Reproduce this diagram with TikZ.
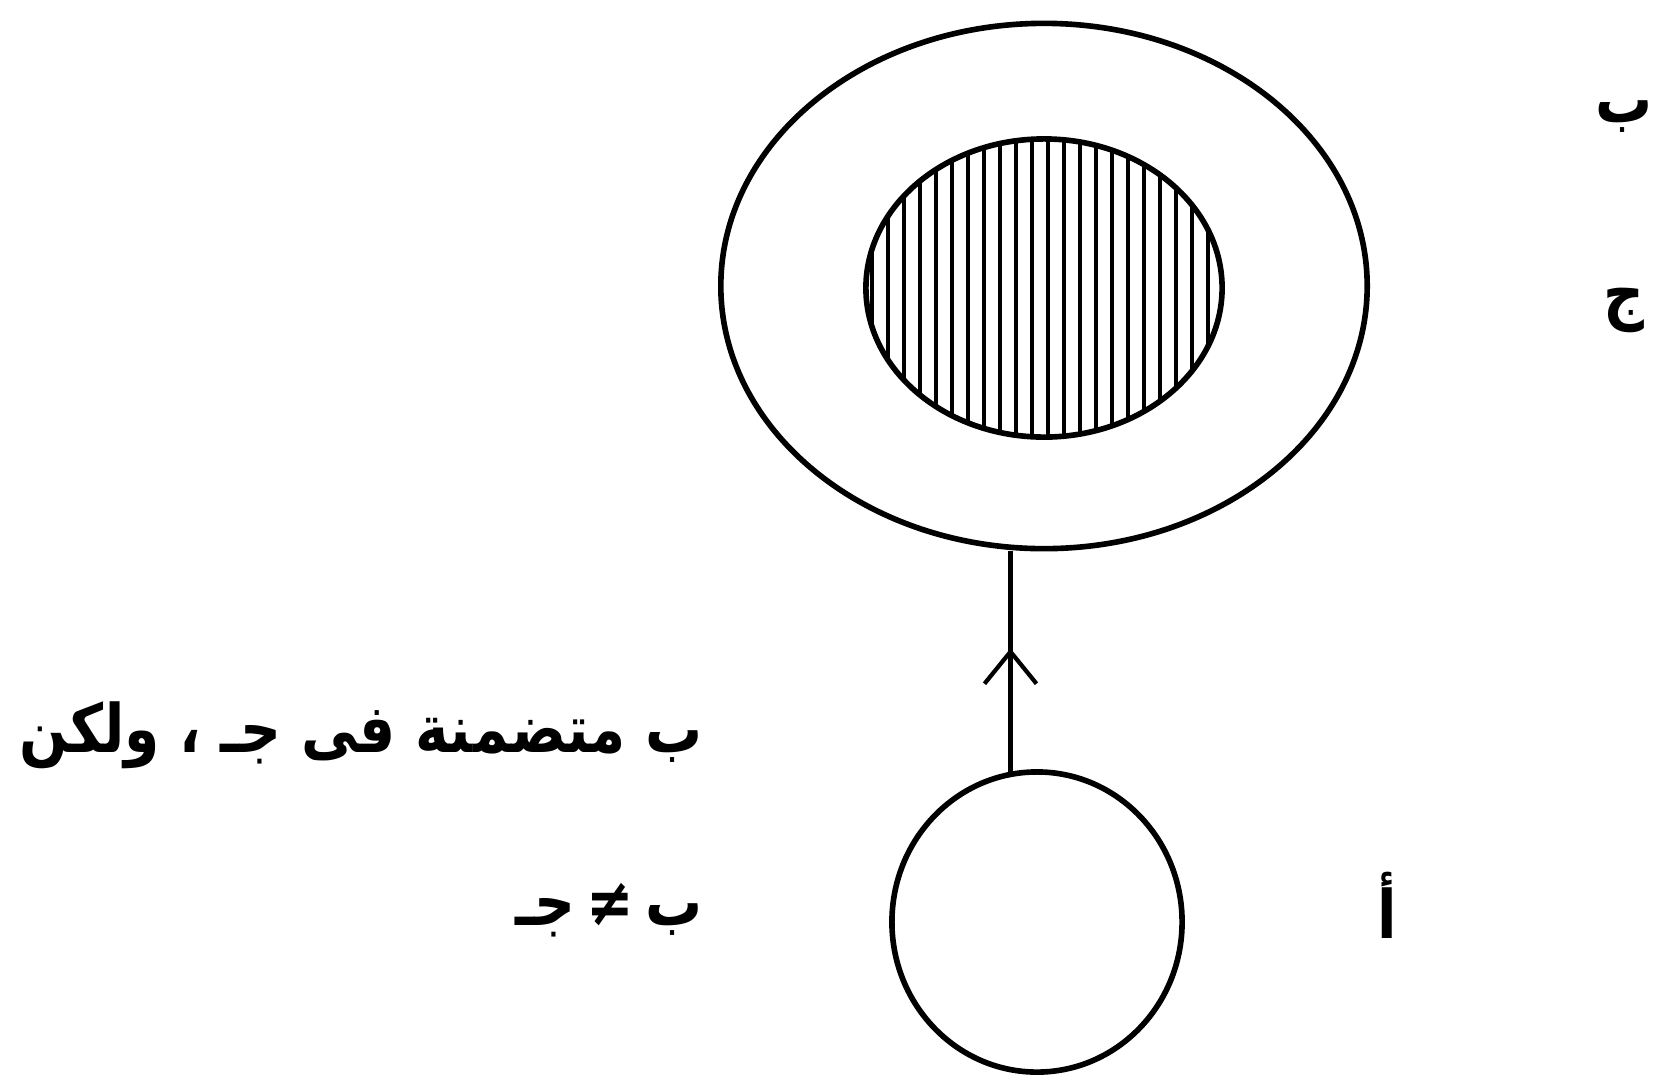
\documentclass[tikz,border=0pt]{standalone}
\usepackage{fontspec}
\newfontfamily\arabicfont[Script=Arabic,FakeStretch=0.85]{DejaVu Sans}
\TeXXeTstate=1
\usetikzlibrary{
    arrows.meta,
    shapes.geometric,
    decorations.markings
}
\tikzstyle{setline} = [
    ellipse,
    draw=black,
    line width=1.6pt,
    inner sep=0pt
]
\tikzstyle{hatch} = [
    line width=0.9pt
]
\tikzstyle{midarrow} = [
    line width=1.2pt,
    postaction={decorate},
    decoration={markings,
        mark=at position 0.56 with {\arrow{Straight Barb[length=3.2mm,width=5.2mm,line width=1.2pt]}}}
]
\tikzstyle{label} = [
    font=\arabicfont\bfseries\fontsize{19}{24}\selectfont,
    inner sep=0pt
]

\begin{document}
\begin{tikzpicture}[x=0.01cm, y=-0.01cm]
        \useasboundingbox (0,0) rectangle (1670,1075);

        % Outer set c and inner set b
        \node[setline, minimum width=6.46cm, minimum height=5.25cm] (outer) at (1044,286) {};
        \node[setline, minimum width=3.56cm, minimum height=2.98cm] (inner) at (1044,288) {};

        % Vertical hatching of b
        \begin{scope}
            \clip (1044,288) ellipse [x radius=178, y radius=149];
            \foreach \x in {872,888,...,1220}
                \draw[hatch] (\x,130) -- (\x,450);
        \end{scope}

        % Set a
        \node[setline, minimum width=2.9cm, minimum height=3.0cm] (small) at (1037,922) {};

        % Mapping from a into c
        \draw[midarrow] (small.100) -- (small.100 |- outer.south);

        % Set labels
        \node[label] (lb) at (1624,117) {\beginR ب\endR};
        \node[label] (lc) at (1624,310) {\beginR ج\endR};
        \node[label] (la) at (1387,905) {\beginR أ\endR};

        % Remark
        \node[label, anchor=east] (t1) at (703,735) {\beginR ب متضمنة فى جـ ، ولكن\endR};
        \node[label, anchor=east] (t2) at (703,910) {\beginR ب\,≠\,جـ\endR};
    \end{tikzpicture}
\end{document}
